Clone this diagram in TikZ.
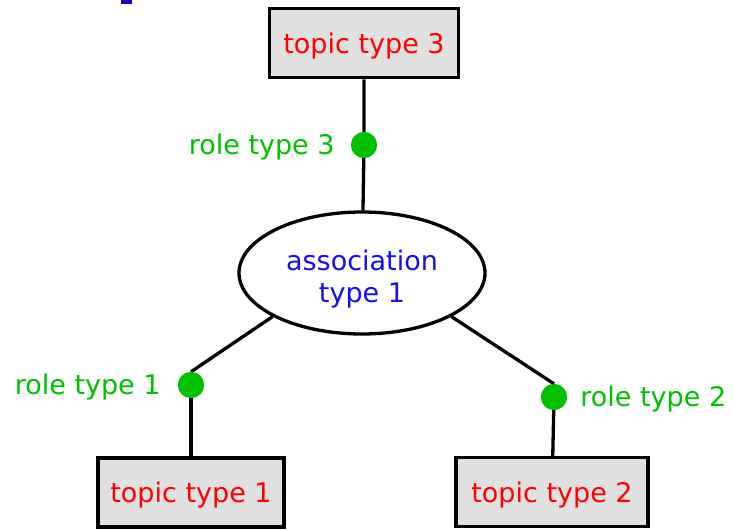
\documentclass[tikz,border=0pt]{standalone}
\usepackage{fontspec}
\setmainfont{DejaVu Sans}
\usetikzlibrary{shapes.geometric,positioning}
\definecolor{topicred}{RGB}{255,0,0}
\definecolor{assocblue}{RGB}{16,16,240}
\definecolor{rolegreen}{RGB}{0,192,0}
\definecolor{boxgray}{RGB}{224,224,224}
\definecolor{titleblue}{RGB}{32,0,192}
\newcommand{\diagfont}{\fontsize{27}{32}\selectfont}
\tikzset{
  topicbox/.style={draw, fill=boxgray, line width=3.3pt, minimum width=189pt,
    minimum height=69pt, inner sep=0pt, text height=20pt, text depth=0pt,
    text=topicred, font=\diagfont},
  assocshape/.style={ellipse, draw, fill=white, line width=3.3pt, minimum width=246pt,
    minimum height=122pt, inner sep=0pt, align=center, text height=59pt,
    text depth=0pt, text=assocblue, font=\diagfont},
  roledot/.style={circle, fill=rolegreen, minimum size=26pt, inner sep=0pt},
  rolelabel/.style={text=rolegreen, inner sep=0pt, yshift=-2pt, font=\diagfont},
  link/.style={line width=3.3pt}
}

\begin{document}
\begin{tikzpicture}[x=1pt, y=-1pt]
    \useasboundingbox (0,0) rectangle (734,530);
    % Cut-off piece of the title at the top edge
    \fill[titleblue] (121,0) rectangle (132,3.5);
    % Draw the three topic types
    \node[topicbox] (t3) at (364,43.3) {topic type 3};
    \node[topicbox, minimum width=186pt] (t1) at (191,492.5) {topic type 1};
    \node[topicbox, minimum width=192pt] (t2) at (552,492) {topic type 2};
    % Draw the association in the middle
    \node[assocshape] (assoc) at (362,273) {association\\type 1};
    % Draw the role dots with their labels
    \node[roledot] (r3) at (364,145) {};
    \node[roledot] (r1) at (191,385) {};
    \node[roledot] (r2) at (554,397) {};
    \node[rolelabel, left=16pt of r3] (l3) {role type 3};
    \node[rolelabel, left=17pt of r1] (l1) {role type 1};
    \node[rolelabel, right=13pt of r2] (l2) {role type 2};
    % Connect topics, roles and association
    \draw[link] (t3) -- (r3) -- (assoc);
    \draw[link] (assoc.206) -- (r1.north);
    \draw[link] (r1) -- (t1);
    \draw[link] (assoc.334) -- (r2.north);
    \draw[link] (r2) -- (t2);
    % Put the dots back on top of the lines
    \fill[rolegreen] (r3) circle (13pt) (r1) circle (13pt) (r2) circle (13pt);
\end{tikzpicture}
\end{document}
